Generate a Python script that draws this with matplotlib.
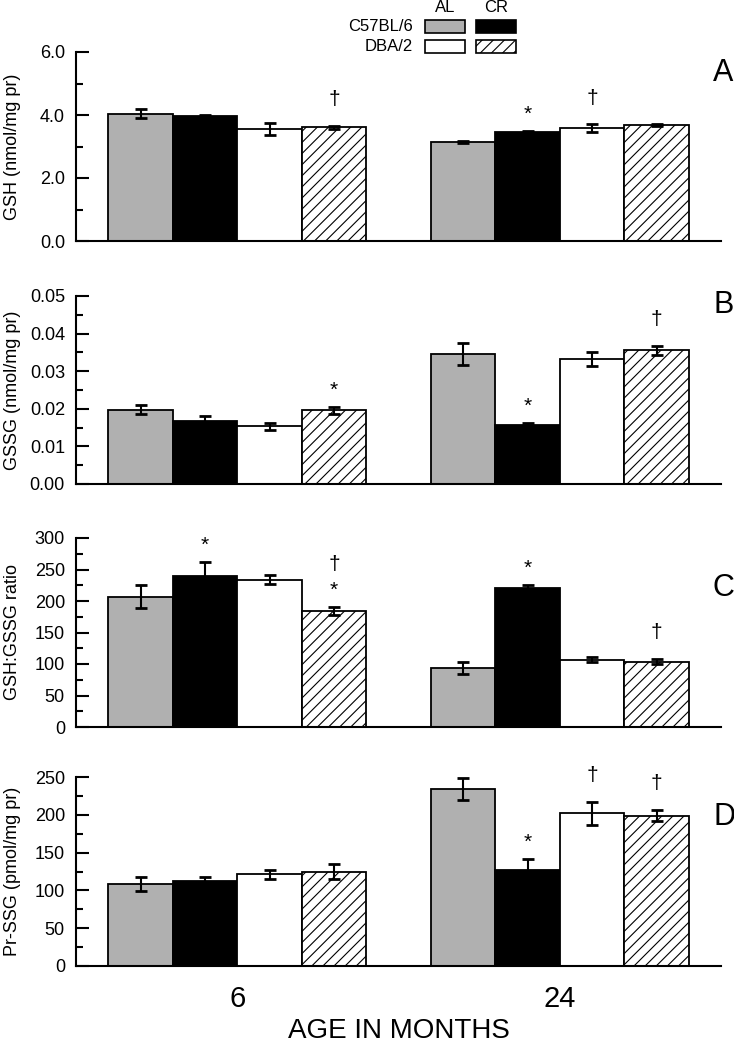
import matplotlib
matplotlib.use('Agg')
import matplotlib.pyplot as plt
from matplotlib.patches import Rectangle
from matplotlib.ticker import MultipleLocator, FormatStrFormatter

plt.rcParams['font.family'] = ['Liberation Sans', 'DejaVu Sans']
plt.rcParams['hatch.linewidth'] = 0.8

# data: rows = age group (6, 24 months), cols = C57 AL, C57 CR, DBA AL, DBA CR
ages = ['6', '24']
series = ['C57BL/6 AL', 'C57BL/6 CR', 'DBA/2 AL', 'DBA/2 CR']

gsh_mean = [[4.04, 3.98, 3.56, 3.61], [3.15, 3.47, 3.58, 3.68]]
gsh_err = [[0.15, 0.03, 0.19, 0.05], [0.03, 0.03, 0.12, 0.04]]

gssg_mean = [[0.0197, 0.0168, 0.0153, 0.0196], [0.0346, 0.0158, 0.0333, 0.0356]]
gssg_err = [[0.0012, 0.0014, 0.0009, 0.0009], [0.0030, 0.0004, 0.0018, 0.0012]]

ratio_mean = [[207, 240, 234, 184], [93.5, 220, 107, 103.5]]
ratio_err = [[18, 22, 7, 6], [9, 6, 3.5, 4]]

prssg_mean = [[108.7, 113, 121.5, 125], [234, 127.6, 202, 199]]
prssg_err = [[9, 5, 6, 9.7], [14.5, 14, 15, 7]]

# significance marks: (age index, series index, symbols from bottom up)
gsh_marks = [(0, 3, '†'), (1, 1, '*'), (1, 2, '†')]
gssg_marks = [(0, 3, '*'), (1, 1, '*'), (1, 3, '†')]
ratio_marks = [(0, 1, '*'), (0, 3, '*†'), (1, 1, '*'), (1, 3, '†')]
prssg_marks = [(1, 1, '*'), (1, 2, '†'), (1, 3, '†')]

colors = ['#b0b0b0', 'black', 'white', 'white']
hatches = [None, None, None, '///']

panels = [
    ('GSH (nmol/mg pr)', gsh_mean, gsh_err, gsh_marks, 6.0, 2.0, 1.0, '%.1f', 'A', 73),
    ('GSSG (nmol/mg pr)', gssg_mean, gssg_err, gssg_marks, 0.05, 0.01, 0.005, '%.2f', 'B', 305),
    ('GSH:GSSG ratio', ratio_mean, ratio_err, ratio_marks, 300, 50, 25, '%d', 'C', 588),
    ('Pr-SSG (pmol/mg pr)', prssg_mean, prssg_err, prssg_marks, 250, 50, 25, '%d', 'D', 817),
]

W, H = 734, 1048
fig = plt.figure(figsize=(W / 100, H / 100), dpi=100)

tops = [52, 296, 538, 777]
bots = [241, 484, 727, 966]
left, right = 76, 721

for i, (ylab, mean, err, marks, ymax, major, minor, fmt, letter, ly) in enumerate(panels):
    ax = fig.add_axes([left / W, 1 - bots[i] / H, (right - left) / W, (bots[i] - tops[i]) / H])
    for g in range(2):
        for s in range(4):
            x = g * 5 + s
            ax.bar(x, mean[g][s], width=1.0, color=colors[s], edgecolor='black',
                   linewidth=1.3, hatch=hatches[s], zorder=2)
            ax.errorbar(x, mean[g][s], yerr=err[g][s], color='black', capsize=4.5,
                        elinewidth=1.5, capthick=2, zorder=3)
    for g, s, syms in marks:
        x = g * 5 + s
        top = mean[g][s] + err[g][s]
        for k, sym in enumerate(syms):
            off = (12 if sym == '*' else 19) + 12 * k
            ax.annotate(sym, (x, top), xytext=(0, off), textcoords='offset points',
                        ha='center', va='center', fontsize=15)
    ax.set_xlim(-1, 9)
    ax.set_ylim(0, ymax)
    ax.yaxis.set_major_locator(MultipleLocator(major))
    ax.yaxis.set_minor_locator(MultipleLocator(minor))
    ax.yaxis.set_major_formatter(FormatStrFormatter(fmt))
    ax.tick_params(axis='y', which='major', direction='in', length=9, width=1.5,
                   labelsize=13, pad=8)
    ax.tick_params(axis='y', which='minor', direction='in', length=5, width=1.5)
    ax.spines['top'].set_visible(False)
    ax.spines['right'].set_visible(False)
    ax.spines['left'].set_linewidth(1.5)
    ax.spines['bottom'].set_linewidth(1.5)
    ax.set_ylabel(ylab, fontsize=13)
    ax.yaxis.set_label_coords(-0.085, 0.5)
    fig.text(713 / W, 1 - ly / H, letter, fontsize=22, ha='left', va='center')
    if i < 3:
        ax.set_xticks([])
    else:
        ax.set_xticks([1.5, 6.5])
        ax.set_xticklabels(ages, fontsize=21)
        ax.tick_params(axis='x', length=0, pad=14)

fig.text(0.5 * (left + right) / W, 1 - 1031 / H, 'AGE IN MONTHS', fontsize=20,
         ha='center', va='center')

# legend drawn in figure pixel space
lg = fig.add_axes([0, 0, 1, 1], zorder=5)
lg.set_xlim(0, W)
lg.set_ylim(H, 0)
lg.axis('off')
col_x = [425, 476]
row_y = [20, 40]
for r, row_name in enumerate(['C57BL/6', 'DBA/2']):
    lg.text(413, row_y[r] + 6.5, row_name, fontsize=12, ha='right', va='center')
    for c in range(2):
        s = r * 2 + c
        lg.add_patch(Rectangle((col_x[c], row_y[r]), 40, 13, facecolor=colors[s],
                               edgecolor='black', linewidth=1.2, hatch=hatches[s]))
for c, name in enumerate(['AL', 'CR']):
    lg.text(col_x[c] + 20, 8, name, fontsize=12, ha='center', va='center')

fig.savefig('out.png', dpi=100)
